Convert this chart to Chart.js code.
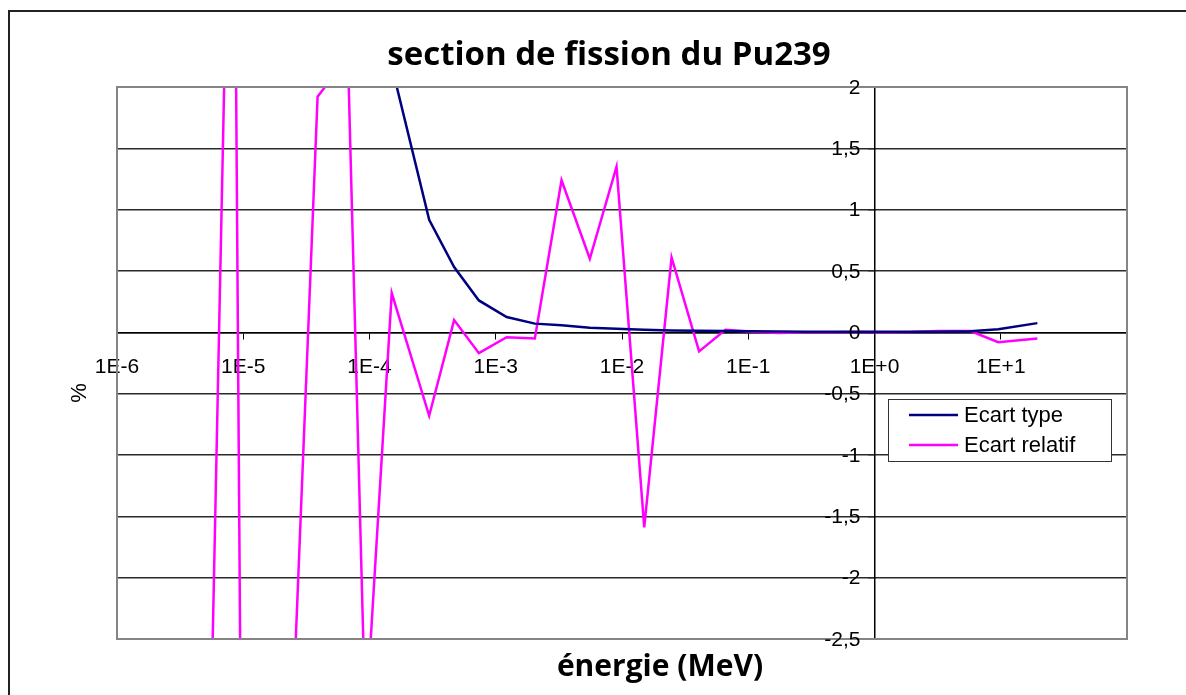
<!DOCTYPE html>
<html>
<head>
<meta charset="utf-8">
<script src="https://cdn.jsdelivr.net/npm/chart.js@4.4.0/dist/chart.umd.min.js"></script>
<style>
  html, body { margin: 0; padding: 0; background: #fff; }
  #wrap { position: relative; width: 1186px; height: 695px; overflow: hidden; }
  #frame { position: absolute; left: 8px; top: 10px; width: 1300px; height: 800px; border: 2px solid #222; box-sizing: border-box; }
  #c { position: absolute; left: 0; top: 0; }
</style>
</head>
<body>
<div id="wrap">
  <div id="frame"></div>
  <canvas id="c" width="1186" height="695"></canvas>
</div>
<script>
// ---------- Data ----------
const titleText = 'section de fission du Pu239';
const xTitle = 'énergie (MeV)';
const yTitle = '%';

// énergie (MeV)
const energies = [
  5.35e-6, 8.3e-6, 1.38e-5, 2.34e-5, 3.88e-5, 6.75e-5, 9.3e-5, 1.5e-4,
  2.97e-4, 4.68e-4, 7.35e-4, 1.22e-3, 2.04e-3, 3.32e-3, 5.56e-3, 9.05e-3,
  1.5e-2, 2.47e-2, 4.08e-2, 6.6e-2, 0.107, 0.174, 0.282, 0.457,
  0.741, 1.2, 1.95, 3.16, 5.75, 9.55, 19.5
];
const ecartType = [
  40, 30, 20, 12, 7, 4.5, 3.2, 2.17,
  0.918, 0.532, 0.26, 0.125, 0.071, 0.057, 0.038, 0.03,
  0.022, 0.015, 0.012, 0.01, 0.008, 0.006, 0.005, 0.004,
  0.004, 0.004, 0.004, 0.005, 0.008, 0.025, 0.075
];
const ecartRelatif = [
  -3.97, 5.5, -26, -3.7, 1.92, 2.25, -3.2, 0.32,
  -0.68, 0.1, -0.17, -0.04, -0.05, 1.24, 0.6, 1.35,
  -1.59, 0.61, -0.155, 0.02, 0.005, -0.005, 0, 0,
  0.002, 0, 0.002, 0.01, 0.01, -0.08, -0.05
];

const xTicks = [1e-6, 1e-5, 1e-4, 1e-3, 1e-2, 1e-1, 1e0, 1e1, 1e2];
const xTickLabels = ['1E-6', '1E-5', '1E-4', '1E-3', '1E-2', '1E-1', '1E+0', '1E+1', ''];
const yTicks = [-2.5, -2, -1.5, -1, -0.5, 0, 0.5, 1, 1.5, 2];
const yTickLabels = ['-2,5', '-2', '-1,5', '-1', '-0,5', '0', '0,5', '1', '1,5', '2'];

const seriesLabels = ['Ecart type', 'Ecart relatif'];
const seriesColors = ['#000080', '#ff00ff'];

// ---------- Decorations ----------
const tickFont = { family: '"Liberation Sans", Arial, sans-serif', size: 21 };

const decor = {
  id: 'decor',
  afterDraw(chart) {
    const { ctx, chartArea: a } = chart;
    const xs = chart.scales.x, ys = chart.scales.y;
    ctx.save();
    // cadre de la zone de tracé
    ctx.strokeStyle = '#858585';
    ctx.lineWidth = 2;
    ctx.strokeRect(a.left, a.top, a.right - a.left, a.bottom - a.top);

    // étiquettes de l'axe Y, à gauche de l'axe qui passe par 1E+0
    const axisX = xs.getPixelForValue(1);
    ctx.fillStyle = '#000';
    ctx.font = '21px "Liberation Sans", Arial, sans-serif';
    ctx.textAlign = 'right';
    ctx.textBaseline = 'middle';
    yTicks.forEach((v, i) => {
      ctx.fillText(yTickLabels[i], axisX - 14, ys.getPixelForValue(v) + 1);
    });

    // titres
    ctx.textAlign = 'center';
    ctx.font = 'bold 33px "Open Sans", sans-serif';
    ctx.fillText(titleText, 609, 56);
    ctx.font = 'bold 30px "Open Sans", sans-serif';
    ctx.fillText(xTitle, 660, 667);

    ctx.save();
    ctx.translate(80, 393);
    ctx.rotate(-Math.PI / 2);
    ctx.font = '22px "Liberation Sans", Arial, sans-serif';
    ctx.fillText(yTitle, 0, 0);
    ctx.restore();

    // légende
    const lx = 888, ly = 399, lw = 223, lh = 62;
    ctx.fillStyle = '#fff';
    ctx.fillRect(lx, ly, lw, lh);
    ctx.strokeStyle = '#333';
    ctx.lineWidth = 1;
    ctx.strokeRect(lx + 0.5, ly + 0.5, lw, lh);
    ctx.font = '22px "Liberation Sans", Arial, sans-serif';
    ctx.textAlign = 'left';
    chart.data.datasets.forEach((ds, i) => {
      const y = ly + 16 + i * 30;
      ctx.strokeStyle = ds.borderColor;
      ctx.lineWidth = 2.5;
      ctx.beginPath();
      ctx.moveTo(909, y);
      ctx.lineTo(958, y);
      ctx.stroke();
      ctx.fillStyle = '#000';
      ctx.fillText(ds.label, 964, y + 1);
    });
    ctx.restore();
  }
};

// ---------- Chart ----------
new Chart(document.getElementById('c').getContext('2d'), {
  type: 'line',
  data: {
    datasets: [
      {
        label: seriesLabels[0],
        data: energies.map((e, i) => ({ x: e, y: ecartType[i] })),
        borderColor: seriesColors[0],
        borderWidth: 2.5,
        pointRadius: 0,
        tension: 0,
        fill: false,
      },
      {
        label: seriesLabels[1],
        data: energies.map((e, i) => ({ x: e, y: ecartRelatif[i] })),
        borderColor: seriesColors[1],
        borderWidth: 2.5,
        pointRadius: 0,
        tension: 0,
        fill: false,
      },
    ],
  },
  options: {
    responsive: false,
    animation: false,
    layout: { padding: { left: 117, top: 87, right: 59, bottom: 56 } },
    scales: {
      x: {
        type: 'logarithmic',
        min: 1e-6,
        max: 1e2,
        position: { y: 0 },
        afterBuildTicks: (s) => { s.ticks = xTicks.map(v => ({ value: v })); },
        ticks: {
          autoSkip: false,
          maxRotation: 0,
          padding: 16,
          color: '#000',
          font: tickFont,
          callback: (v, i) => xTickLabels[i],
        },
        grid: { drawOnChartArea: false, drawTicks: true, tickLength: 6, color: '#000' },
        border: { color: '#000', width: 1.5 },
      },
      y: {
        type: 'linear',
        min: -2.5,
        max: 2,
        position: { x: 1 },
        afterBuildTicks: (s) => { s.ticks = yTicks.map(v => ({ value: v })); },
        ticks: { display: false },
        grid: { color: '#2a2a2a', lineWidth: 1.4, tickLength: 6, drawTicks: true },
        border: { color: '#000', width: 1.5 },
      },
    },
    plugins: {
      legend: { display: false },
      tooltip: { enabled: false },
      title: { display: false },
    },
  },
  plugins: [decor],
});
</script>
</body>
</html>
